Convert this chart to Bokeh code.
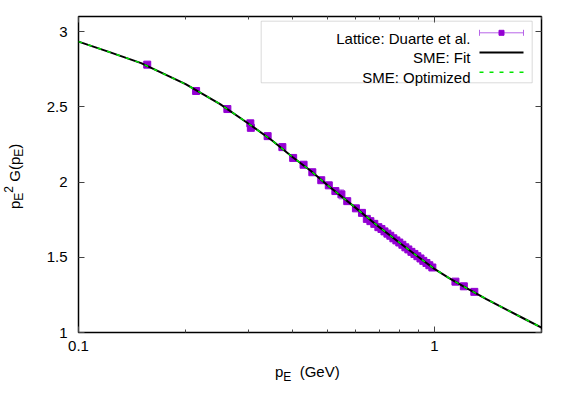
import math
from bokeh.plotting import figure
from bokeh.layouts import row, column
from bokeh.models import (ColumnDataSource, Whisker, TeeHead, FixedTicker,
                          CustomJSTickFormatter, LogAxis, LinearAxis, Label,
                          BoxAnnotation, Range1d, Div)
from bokeh.embed import file_html
from bokeh.resources import INLINE

# ---- data ----
lattice_p = [0.156, 0.214, 0.262, 0.304, 0.305, 0.340, 0.374, 0.401, 0.429, 0.454,
             0.481, 0.505, 0.527, 0.548, 0.569, 0.602, 0.626, 0.646, 0.661, 0.678,
             0.696, 0.710, 0.724, 0.738, 0.752, 0.767, 0.782, 0.797, 0.813, 0.829,
             0.845, 0.862, 0.879, 0.896, 0.914, 0.931, 0.950, 0.968, 0.987, 1.146,
             1.210, 1.295]
lattice_G = [2.780, 2.605, 2.485, 2.390, 2.360, 2.305, 2.232, 2.160, 2.115, 2.065,
             2.012, 1.978, 1.940, 1.918, 1.873, 1.825, 1.795, 1.755, 1.740, 1.722,
             1.700, 1.688, 1.672, 1.657, 1.643, 1.626, 1.612, 1.598, 1.583, 1.566,
             1.552, 1.536, 1.522, 1.507, 1.492, 1.476, 1.462, 1.447, 1.432, 1.338,
             1.307, 1.270]
lattice_err = [0.012, 0.012, 0.012, 0.015, 0.015, 0.012, 0.012, 0.012, 0.015, 0.012,
               0.012, 0.015, 0.012, 0.030, 0.012, 0.015, 0.020, 0.015, 0.015, 0.020,
               0.015, 0.015, 0.020, 0.015, 0.015, 0.020, 0.015, 0.020, 0.015, 0.020,
               0.015, 0.020, 0.015, 0.020, 0.015, 0.015, 0.015, 0.015, 0.015, 0.012,
               0.012, 0.012]

fit_p = [0.1, 0.12, 0.15, 0.2, 0.25, 0.3, 0.35, 0.4, 0.45, 0.5, 0.6, 0.7, 0.8,
         0.9, 1.0, 1.1, 1.2, 1.4, 1.6, 1.8, 2.0]
fit_G = [2.933, 2.870, 2.790, 2.650, 2.518, 2.389, 2.276, 2.165, 2.073, 1.980,
         1.830, 1.700, 1.595, 1.503, 1.423, 1.362, 1.310, 1.222, 1.150, 1.088, 1.033]
opt_p = fit_p
opt_G = fit_G

x_major = [0.1, 1]
x_minor = [0.2, 0.3, 0.4, 0.5, 0.6, 0.7, 0.8, 0.9, 2]
y_major = [1, 1.5, 2, 2.5, 3]

legend_labels = ["Lattice: Duarte et al.", "SME: Fit", "SME: Optimized"]

# ---- styles ----
FONT = "Liberation Sans"
PURPLE = "#9400d3"
ERRC = "#b866e8"
GREEN = "#00e600"

YDIV_W = 30
XDIV_H = 35
W, H = 536, 360
ML, MR, MT, MB = 48, 25, 16, 28
FW, FH = W - ML - MR, H - MT - MB
XMIN, XMAX, YMIN, YMAX = 0.1, 2.0, 1.0, 3.1

p = figure(width=W, height=H, x_axis_type="log",
           x_range=Range1d(XMIN, XMAX), y_range=Range1d(YMIN, YMAX),
           output_backend="svg", toolbar_location=None,
           min_border_left=ML, min_border_right=MR,
           min_border_top=MT, min_border_bottom=MB)
p.grid.visible = False
p.outline_line_color = "black"
p.outline_line_width = 1.5
p.background_fill_color = "white"
p.border_fill_color = "white"

fmt = CustomJSTickFormatter(code="return tick.toString();")
blank = CustomJSTickFormatter(code="return '';")

def style_axis(ax, labels=True):
    ax.axis_line_color = None
    ax.major_tick_in = 6
    ax.major_tick_out = 0
    ax.minor_tick_in = 3
    ax.minor_tick_out = 0
    ax.major_tick_line_color = "#444444"
    ax.minor_tick_line_color = "#444444"
    ax.major_tick_line_width = 1
    ax.minor_tick_line_width = 1
    ax.major_label_text_font = FONT
    ax.major_label_text_font_size = "15px"
    if labels:
        ax.major_label_text_color = "black"
        ax.formatter = fmt
    else:
        ax.major_label_text_color = None
        ax.formatter = blank
        ax.major_label_standoff = 0

xb = p.xaxis[0]
xb.ticker = FixedTicker(ticks=x_major, minor_ticks=x_minor)
style_axis(xb)
xb.major_label_standoff = 8

yl = p.yaxis[0]
yl.ticker = FixedTicker(ticks=y_major, minor_ticks=[])
style_axis(yl)
yl.major_label_standoff = 11

xt = LogAxis(ticker=FixedTicker(ticks=x_major, minor_ticks=x_minor))
style_axis(xt, labels=False)
p.add_layout(xt, "above")
yr = LinearAxis(ticker=FixedTicker(ticks=y_major, minor_ticks=[]))
style_axis(yr, labels=False)
p.add_layout(yr, "right")

# ---- lattice data with error bars ----
src = ColumnDataSource(dict(
    x=lattice_p, y=lattice_G,
    lo=[g - e for g, e in zip(lattice_G, lattice_err)],
    hi=[g + e for g, e in zip(lattice_G, lattice_err)]))
wh = Whisker(base="x", upper="hi", lower="lo", source=src, dimension="height",
             line_color=ERRC, line_width=1,
             upper_head=TeeHead(size=5, line_color=ERRC, line_width=1),
             lower_head=TeeHead(size=5, line_color=ERRC, line_width=1),
             level="underlay")
p.add_layout(wh)
p.scatter("x", "y", source=src, marker="square", size=7,
          fill_color=PURPLE, line_color=PURPLE)

# ---- curves ----
p.line(fit_p, fit_G, line_color="black", line_width=2)
p.line(opt_p, opt_G, line_color=GREEN, line_width=1.5, line_dash="4 6")

# ---- custom legend (gnuplot style: text right, sample on the right) ----
LX0, LX1 = 401, 445

def sx2x(sx):
    return 10 ** (math.log10(XMIN) + sx / FW * (math.log10(XMAX) - math.log10(XMIN)))

def sy2y(sy):
    return YMIN + sy / FH * (YMAX - YMIN)

p.add_layout(BoxAnnotation(left=182.7, right=453.7, bottom=249.7, top=311.3,
                           left_units="screen", right_units="screen",
                           bottom_units="screen", top_units="screen",
                           fill_color=None, line_color="#888888", line_width=1))
rows_sy = [299.7, 280.0, 260.3]
for lab_text, sy in zip(legend_labels, rows_sy):
    p.add_layout(Label(x=392, y=sy - 5.3, x_units="screen", y_units="screen",
                       text=lab_text, text_font=FONT, text_font_size="15px",
                       text_align="right", text_baseline="alphabetic",
                       text_color="black"))
# row 1: error-bar sample
y1 = sy2y(rows_sy[0])
dy = 3 / FH * (YMAX - YMIN)
p.segment(x0=[sx2x(LX0)], y0=[y1], x1=[sx2x(LX1)], y1=[y1], line_color=ERRC, line_width=1)
p.segment(x0=[sx2x(LX0), sx2x(LX1)], y0=[y1 - dy, y1 - dy],
          x1=[sx2x(LX0), sx2x(LX1)], y1=[y1 + dy, y1 + dy], line_color=ERRC, line_width=1)
p.scatter([sx2x((LX0 + LX1) / 2)], [y1], marker="square", size=5,
          fill_color=PURPLE, line_color=PURPLE)
# row 2: fit line
y2 = sy2y(rows_sy[1])
p.line([sx2x(LX0), sx2x(LX1)], [y2, y2], line_color="black", line_width=2)
# row 3: optimized dashed
y3 = sy2y(rows_sy[2])
p.line([sx2x(LX0), sx2x(LX1)], [y3, y3], line_color=GREEN, line_width=1.5, line_dash="4 6")

# ---- axis titles (HTML with sub/superscripts) ----
SUB = "font-size:12px;line-height:0;"
x_title_html = (
    '<div style="padding-left:245px;padding-top:2px;font-family:\'Liberation Sans\';'
    'font-size:15px;line-height:20px;white-space:nowrap;color:black;">'
    'p<sub style="%s">E</sub>&nbsp;&nbsp;(GeV)</div>' % SUB)
y_title_html = (
    '<div style="margin-left:4.5px;width:20px;height:352px;writing-mode:vertical-rl;'
    'transform:rotate(180deg);text-align:center;font-family:\'Liberation Sans\';'
    'font-size:15px;line-height:20px;white-space:nowrap;color:black;">'
    'p<sub style="%s">E</sub><sup style="%s">2</sup> G(p<sub style="%s">E</sub>)</div>'
    % (SUB, SUB, SUB))

xdiv = Div(text=x_title_html, width=W, height=XDIV_H, margin=0)
ydiv = Div(text=y_title_html, width=YDIV_W, height=H + XDIV_H, margin=0)

layout = row(ydiv, column(p, xdiv, spacing=0), spacing=0)

open("out.html", "w").write(file_html(layout, INLINE))
